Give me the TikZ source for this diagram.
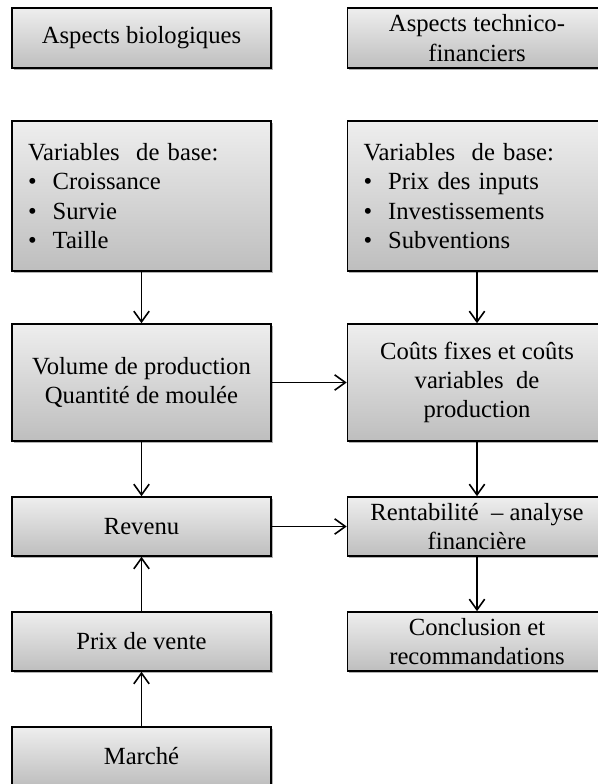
\documentclass[tikz,border=0pt]{standalone}
\usepackage{fontspec}
\setmainfont{Liberation Serif}
\usetikzlibrary{arrows.meta}
\usetikzlibrary{shadows}
\usetikzlibrary{positioning}
\definecolor{boxhaut}{RGB}{238,238,238}
\definecolor{boxbas}{RGB}{190,190,190}
\newcommand{\puce}{\makebox[18.5pt][l]{\textbullet}}

\begin{document}
\begin{tikzpicture}[x=0.75pt,y=-0.75pt, % Pixelkoordinaten
    boite/.style={draw=black, line width=1.2pt, top color=boxhaut, bottom color=boxbas,
        drop shadow={shadow xshift=1.2pt, shadow yshift=-1.8pt, opacity=0.3, fill=black},
        minimum width=194.25pt, inner sep=0pt, align=center,
        font=\fontsize{18.5}{22}\selectfont},
    liste/.style={boite, text width=170.25pt, align=left},
    fleche/.style={-{Straight Barb[length=8pt,width=11.5pt]}, line width=1.2pt}]
    \clip (0,0) rectangle (598,784);
    % Kopfzeile
    \node[boite, minimum height=45pt] (bio) at (141.5,38) {Aspects biologiques};
    \node[boite, minimum height=45pt] (tech) at (477,38) {Aspects technico-\\financiers};
    % Grundvariablen
    \node[liste, minimum height=112.5pt] (varbio) at (141.5,196)
        {Variables\ \ de base:\\ \puce Croissance\\ \puce Survie\\ \puce Taille};
    \node[liste, minimum height=112.5pt] (vartech) at (477,196)
        {Variables\ \ de base:\\ \puce Prix des inputs\\ \puce Investissements\\ \puce Subventions};
    % Produktion und Kosten
    \node[boite, minimum height=87.75pt] (volume) at (141.5,382.5) {Volume de production\\Quantité de moulée};
    \node[boite, minimum height=87.75pt] (couts) at (477,382.5) {Coûts fixes et coûts\\variables\ \ de\\production};
    % Ertrag
    \node[boite, minimum height=44.25pt] (revenu) at (141.5,526.5) {Revenu};
    \node[boite, minimum height=44.25pt] (rentab) at (477,526.5) {Rentabilité\ \ -- analyse\\financière};
    \node[boite, minimum height=44.25pt] (prix) at (141.5,641.5) {Prix de vente};
    \node[boite, minimum height=44.25pt] (concl) at (477,641.5) {Conclusion et\\recommandations};
    \node[boite, minimum height=44.25pt] (marche) at (141.5,756.5) {Marché};
    % Pfeile
    \draw[fleche] (varbio) -- (volume);
    \draw[fleche] (vartech) -- (couts);
    \draw[fleche] (volume) -- (couts);
    \draw[fleche] (volume) -- (revenu);
    \draw[fleche] (couts) -- (rentab);
    \draw[fleche] (revenu) -- (rentab);
    \draw[fleche] (rentab) -- (concl);
    \draw[fleche] (prix) -- (revenu);
    \draw[fleche] (marche) -- (prix);
\end{tikzpicture}
\end{document}
